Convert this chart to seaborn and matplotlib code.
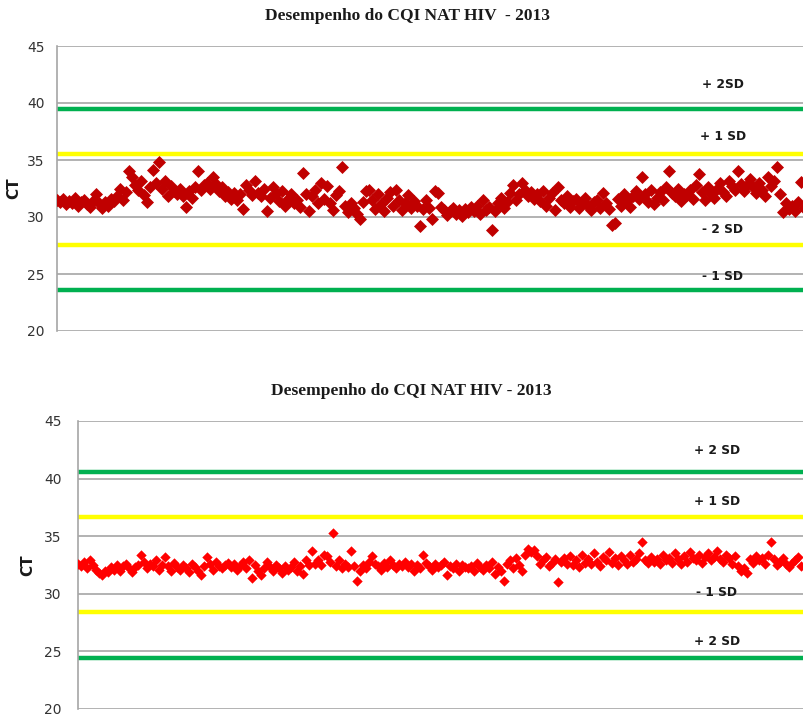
import matplotlib
matplotlib.use("Agg")
import matplotlib.pyplot as plt
import seaborn as sns
import numpy as np
import pandas as pd

sns.set_theme(style="white")
plt.rcParams["font.family"] = ["DejaVu Sans"]

TITLE = "Desempenho do CQI NAT HIV  - 2013"
TITLE_2 = "Desempenho do CQI NAT HIV - 2013"
Y_LABEL = "CT"
Y_TICKS = [20, 25, 30, 35, 40, 45]

# Control limits (CT) for each run chart
limits_1 = [39.5, 35.5, 27.55, 23.6]
limit_labels_1 = ["+ 2SD", "+ 1 SD", "- 2 SD", "- 1 SD"]
label_pos_1 = [41.6, 37.1, 28.9, 24.8]

limits_2 = [40.6, 36.65, 28.45, 24.4]
limit_labels_2 = ["+ 2 SD", "+ 1 SD", "- 1 SD", "+ 2 SD"]
label_pos_2 = [42.4, 38.0, 30.15, 25.9]

limit_colors = ["#00B050", "#FFFF00", "#FFFF00", "#00B050"]

# CT values of the internal quality control, first chart
ct_1 = [
    31.5, 31.3, 31.6, 31.1, 31.4, 31.2, 31.7, 31.0, 31.3, 31.5,
    31.1, 30.9, 31.4, 32.0, 31.2, 30.8, 31.3, 31.0, 31.6, 31.4,
    31.8, 32.5, 31.5, 32.2, 34.0, 33.5, 32.8, 32.4, 33.2, 31.9,
    31.3, 32.6, 34.1, 33.0, 34.8, 32.5, 33.2, 31.8, 32.7, 32.3,
    32.0, 32.5, 31.8, 30.9, 32.3, 31.7, 32.6, 34.0, 32.4, 32.8,
    33.0, 32.5, 33.5, 32.9, 32.3, 32.6, 31.8, 32.2, 31.6, 32.1,
    31.5, 32.0, 30.7, 32.8, 32.4, 31.9, 33.2, 32.1, 31.8, 32.5,
    30.5, 31.7, 32.6, 32.1, 31.4, 32.3, 31.0, 31.6, 32.0, 31.2,
    31.5, 30.9, 33.9, 32.0, 30.5, 31.8, 32.4, 31.2, 33.0, 31.6,
    32.7, 31.2, 30.6, 31.9, 32.3, 34.4, 31.0, 30.4, 31.2, 30.8,
    30.3, 29.8, 31.3, 32.3, 32.4, 31.5, 30.7, 32.0, 31.1, 30.5,
    31.7, 32.2, 31.0, 32.4, 31.5, 30.6, 31.2, 31.9, 30.8, 31.4,
    31.0, 29.2, 30.7, 31.5, 30.8, 29.8, 32.3, 32.1, 30.9, 30.6,
    30.2, 30.5, 30.8, 30.3, 30.6, 30.1, 30.7, 30.4, 30.9, 30.5,
    31.0, 30.3, 31.5, 30.6, 30.9, 28.9, 30.5, 31.2, 31.7, 30.8,
    31.3, 32.1, 32.8, 31.5, 32.0, 33.0, 32.4, 31.8, 32.2, 31.6,
    32.0, 31.4, 32.3, 31.0, 31.7, 32.1, 30.6, 32.6, 31.5, 31.2,
    31.8, 30.9, 31.4, 31.6, 30.8, 31.2, 31.7, 31.0, 30.6, 31.3,
    31.5, 30.8, 32.1, 31.2, 30.7, 29.3, 29.5, 31.6, 31.0, 32.0,
    31.4, 30.9, 31.8, 32.3, 31.6, 33.5, 32.0, 31.3, 32.4, 31.1,
    31.7, 32.2, 31.5, 32.6, 34.0, 32.1, 31.8, 32.5, 31.4, 32.0,
    31.9, 32.4, 31.6, 32.8, 33.8, 32.2, 31.5, 32.6, 32.0, 31.7,
    32.5, 33.0, 32.2, 31.8, 33.2, 32.7, 32.4, 34.0, 32.9, 32.3,
    32.8, 33.3, 32.6, 32.1, 33.0, 32.4, 31.8, 33.5, 32.7, 33.2,
    34.4, 32.0, 30.4, 31.2, 30.7, 31.0, 30.5, 31.3, 33.1, 30.8,
]

# CT values of the internal quality control, second chart
ct_2 = [
    32.6, 32.4, 32.8, 32.2, 32.9, 32.5, 32.1, 31.8, 31.6, 32.0,
    31.9, 32.3, 32.1, 32.5, 32.0, 32.4, 32.6, 32.2, 31.9, 32.3,
    32.5, 33.4, 32.8, 32.2, 32.6, 32.4, 32.9, 32.1, 32.5, 33.2,
    32.4, 32.0, 32.7, 32.3, 32.1, 32.5, 32.2, 31.9, 32.6, 32.3,
    32.0, 31.6, 32.4, 33.2, 32.6, 32.1, 32.8, 32.4, 32.2, 32.5,
    32.7, 32.3, 32.6, 32.1, 32.4, 32.8, 32.2, 32.9, 31.4, 32.5,
    32.0, 31.6, 32.2, 32.8, 32.3, 32.0, 32.5, 32.2, 31.8, 32.4,
    32.1, 32.3, 32.8, 32.0, 32.4, 31.7, 32.9, 32.5, 33.7, 32.6,
    32.9, 32.5, 33.4, 33.3, 32.8, 35.3, 32.4, 32.9, 32.2, 32.6,
    32.3, 33.7, 32.4, 31.1, 32.0, 32.5, 32.2, 32.8, 33.3, 32.6,
    32.4, 32.1, 32.7, 32.3, 32.9, 32.5, 32.2, 32.6, 32.4, 32.8,
    32.3, 32.6, 32.0, 32.5, 32.2, 33.4, 32.7, 32.4, 32.1, 32.6,
    32.3, 32.5, 32.8, 31.6, 32.4, 32.2, 32.6, 32.0, 32.5, 32.3,
    32.2, 32.4, 32.0, 32.7, 32.3, 32.1, 32.5, 32.2, 32.8, 31.7,
    32.3, 32.0, 31.1, 32.6, 32.9, 32.2, 33.1, 32.5, 32.0, 33.4,
    33.9, 33.6, 33.8, 33.3, 32.6, 32.9, 33.2, 32.4, 32.7, 33.0,
    31.0, 32.8, 33.1, 32.6, 33.3, 32.5, 32.9, 32.3, 33.4, 32.7,
    33.0, 32.6, 33.5, 32.8, 32.4, 33.2, 32.9, 33.6, 32.7, 33.1,
    32.5, 33.3, 32.9, 32.6, 33.4, 32.8, 33.0, 33.5, 34.5, 32.9,
    32.7, 33.2, 32.8, 33.0, 32.6, 33.4, 32.9, 33.1, 32.7, 33.5,
    33.0, 32.6, 33.3, 32.8, 33.6, 33.1, 32.9, 33.4, 32.7, 33.2,
    33.5, 32.9, 33.2, 33.7, 33.0, 32.8, 33.4, 33.1, 32.6, 33.3,
    32.4, 32.0, 32.2, 31.8, 33.0, 32.7, 33.3, 32.9, 33.1, 32.6,
    33.4, 34.5, 33.0, 32.5, 32.8, 33.1, 32.6, 32.3, 32.7, 32.9,
    33.2, 32.4,
]

W, H = 804, 717
fig = plt.figure(figsize=(W / 100, H / 100), dpi=100)


def px_axes(left, top, right, bottom):
    return fig.add_axes([left / W, 1 - bottom / H, (right - left) / W, (bottom - top) / H])


def run_chart(ax, values, color, size, limits, labels, label_y, label_x, xmax, tick_pad):
    df = pd.DataFrame({"run": np.arange(len(values)), "ct": values})
    for lvl, c in zip(limits, limit_colors):
        ax.axhline(lvl, color=c, lw=3.2, zorder=2)
    sns.scatterplot(data=df, x="run", y="ct", ax=ax, marker="D", s=size,
                    color=color, edgecolor=color, linewidth=0, zorder=3, clip_on=True)
    for txt, yy in zip(labels, label_y):
        ax.text(label_x, yy, txt, ha="center", va="center", fontsize=8.8,
                fontweight="bold", color="#1a1a1a", zorder=4)
    ax.set_xlim(0, xmax)
    ax.set_ylim(20, 45)
    ax.set_yticks(Y_TICKS)
    ax.set_xticks([])
    ax.set_xlabel("")
    ax.set_ylabel(Y_LABEL, fontsize=11, fontweight="bold", color="#1a1a1a")
    ax.yaxis.grid(True, color="#A6A6A6", lw=1.2, zorder=1)
    ax.set_axisbelow(True)
    for side in ["top", "right", "bottom"]:
        ax.spines[side].set_visible(False)
    ax.spines["left"].set_color("#A6A6A6")
    ax.spines["left"].set_linewidth(1.2)
    ax.tick_params(axis="y", length=0, pad=tick_pad, labelsize=10, labelcolor="#333333")
    for t in ax.get_yticklabels():
        t.set_fontfamily("DejaVu Sans")


ax1 = px_axes(57, 46, 810, 331)
run_chart(ax1, ct_1, "#C00000", 44, limits_1, limit_labels_1, label_pos_1,
          222, 251, 9)
ax1.yaxis.set_label_coords(-0.048, 0.5)

ax2 = px_axes(78, 421, 810, 709)
run_chart(ax2, ct_2, "#FF0000", 28, limits_2, limit_labels_2, label_pos_2,
          213, 244, 12)
ax2.yaxis.set_label_coords(-0.058, 0.5)

fig.text(408 / W, 1 - 16 / H, TITLE, ha="center", va="center", fontsize=12.5,
         fontweight="bold", family=["Liberation Serif", "DejaVu Serif"], color="#1a1a1a")
fig.text(411 / W, 1 - 391 / H, TITLE_2, ha="center", va="center", fontsize=12.5,
         fontweight="bold", family=["Liberation Serif", "DejaVu Serif"], color="#1a1a1a")

fig.savefig("out.png", dpi=100)
